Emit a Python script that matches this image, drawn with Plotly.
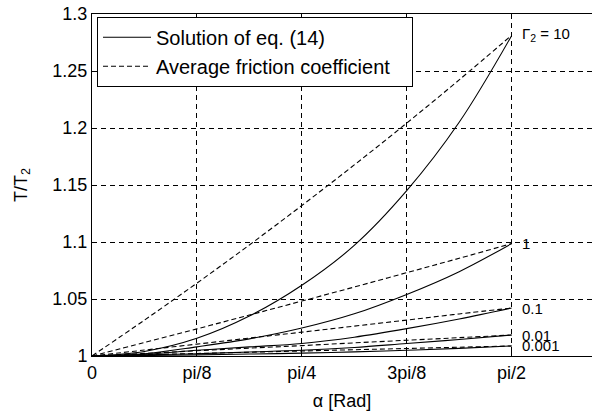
import math
import plotly.graph_objects as go

# alpha sample points (i * pi/16, i = 0..8)
alpha = [i * math.pi / 16 for i in range(9)]

gamma_labels = ["Γ<sub>2</sub> = 10", "1", "0.1", "0.01", "0.001"]

# Solution of eq. (14) (solid)
sol_10 = [1.0, 1.004, 1.0155, 1.035, 1.062, 1.097, 1.145, 1.205, 1.281]
sol_1 = [1.0, 1.002, 1.008, 1.015, 1.0245, 1.037, 1.054, 1.074, 1.0986]
sol_01 = [1.0, 1.0015, 1.005, 1.008, 1.011, 1.0165, 1.024, 1.0325, 1.0421]
sol_001 = [1.0, 1.001, 1.002, 1.0035, 1.005, 1.0075, 1.011, 1.0145, 1.0184]
sol_0001 = [1.0, 1.0004, 1.001, 1.0017, 1.0025, 1.0036, 1.005, 1.0067, 1.0088]

# Average friction coefficient (dashed)
avg_10 = [1.0, 1.0315, 1.0639, 1.0974, 1.1320, 1.1676, 1.2043, 1.2422, 1.2813]
avg_1 = [1.0, 1.0118, 1.0238, 1.0359, 1.0482, 1.0605, 1.0731, 1.0857, 1.0986]
avg_01 = [1.0, 1.0052, 1.0104, 1.0157, 1.0209, 1.0262, 1.0315, 1.0369, 1.0421]
avg_001 = [1.0, 1.0023, 1.0046, 1.0069, 1.0091, 1.0115, 1.0138, 1.0161, 1.0184]
avg_0001 = [1.0, 1.0011, 1.0022, 1.0033, 1.0044, 1.0055, 1.0066, 1.0077, 1.0088]

label_y = [1.282, 1.0986, 1.0418, 1.0177, 1.0094]

x_tickvals = [0, math.pi / 8, math.pi / 4, 3 * math.pi / 8, math.pi / 2]
x_ticktext = ["0", "pi/8", "pi/4", "3pi/8", "pi/2"]
y_tickvals = [1.0, 1.05, 1.1, 1.15, 1.2, 1.25, 1.3]
y_ticktext = ["1", "1.05", "1.1", "1.15", "1.2", "1.25", "1.3"]

solids = [sol_10, sol_1, sol_01, sol_001, sol_0001]
avgs = [avg_10, avg_1, avg_01, avg_001, avg_0001]

NBSP = "\u00a0"
FONT = "Liberation Sans, Arial, sans-serif"
fig = go.Figure()
for i, s in enumerate(solids):
    fig.add_trace(go.Scatter(
        x=alpha, y=s, mode="lines", line=dict(color="black", width=1.1, shape="spline"),
        name="Solution of eq. (14)", legendgroup="sol", showlegend=(i == 0)))
for i, a in enumerate(avgs):
    fig.add_trace(go.Scatter(
        x=alpha, y=a, mode="lines",
        line=dict(color="black", width=1.1, dash="5px,3px", shape="spline"),
        name="Average friction coefficient" + NBSP * 3, legendgroup="avg",
        showlegend=(i == 0)))

for txt, yv in zip(gamma_labels, label_y):
    fig.add_annotation(x=math.pi / 2, y=yv, xref="x", yref="y", text=txt,
                       showarrow=False, xanchor="left", yanchor="middle", xshift=8,
                       font=dict(family=FONT, size=15, color="black"))

fig.update_layout(
    width=592, height=413,
    margin=dict(l=92, r=0, t=14, b=57),
    paper_bgcolor="white", plot_bgcolor="white",
    font=dict(family=FONT, size=18, color="black"),
    legend=dict(x=0.01, y=0.992, xanchor="left", yanchor="top",
                bgcolor="white", bordercolor="black", borderwidth=1,
                font=dict(family=FONT, size=20, color="black"),
                itemwidth=48, tracegroupgap=0),
    showlegend=True,
)
fig.update_xaxes(
    range=[0, 1.8717], tickvals=x_tickvals, ticktext=x_ticktext,
    showline=True, linecolor="black", linewidth=1, mirror=True,
    ticks="inside", ticklen=5, tickcolor="black",
    showgrid=True, gridcolor="black", gridwidth=1, griddash="5px,4px",
    zeroline=False, automargin=False,
    tickfont=dict(family=FONT, size=18),
    title=dict(text="α [Rad]", font=dict(family=FONT, size=18), standoff=12),
)
fig.update_yaxes(
    range=[1.0, 1.3], tickvals=y_tickvals, ticktext=y_ticktext,
    showline=True, linecolor="black", linewidth=1, mirror=False,
    ticks="inside", ticklen=5, tickcolor="black",
    showgrid=True, gridcolor="black", gridwidth=1, griddash="5px,4px",
    zeroline=False, automargin=False,
    tickfont=dict(family=FONT, size=18),
    title=dict(text="T/T<sub>2</sub>", font=dict(family=FONT, size=18), standoff=20),
)
fig.write_html("out.html", config={"displayModeBar": False},
               post_script="document.body.style.margin='0px';document.body.style.overflow='hidden';")
